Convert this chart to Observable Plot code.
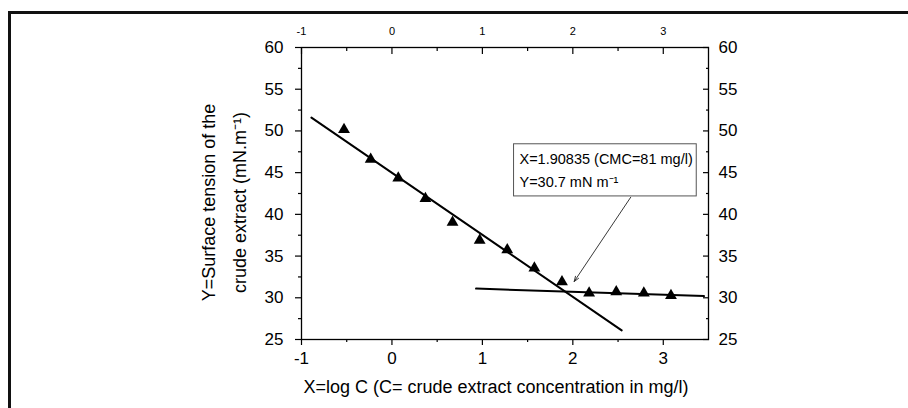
<!DOCTYPE html>
<html><head><meta charset="utf-8">
<script src="https://cdn.jsdelivr.net/npm/d3@7"></script>
<script src="https://cdn.jsdelivr.net/npm/@observablehq/plot@0.6"></script>
<style>
html,body{margin:0;padding:0;background:#fff;overflow:hidden;}
#wrap{position:relative;width:908px;height:408px;overflow:hidden;}
#border{position:absolute;left:8px;top:11px;width:1200px;height:1200px;border-left:3px solid #111;border-top:3px solid #111;}
#wrap svg{position:absolute;left:0;top:0;}
</style></head><body><div id="wrap"><div id="border"></div></div>
<script>
// Data
const logC    = [-0.53, -0.235, 0.07, 0.37, 0.67, 0.97, 1.275, 1.575, 1.88, 2.18, 2.48, 2.785, 3.085];
const tension = [50.15, 46.6, 44.35, 41.9, 39.05, 36.9, 35.75, 33.55, 31.9, 30.55, 30.7, 30.55, 30.25];
const fitSteep = {x: [-0.89, 2.54], y: [51.6, 26.1]};
const fitFlat  = {x: [0.93, 3.45], y: [31.1, 30.2]};
const xMajor = [-1, 0, 1, 2, 3];
const xMinor = [-0.5, 0.5, 1.5, 2.5];
const yMajor = [25, 30, 35, 40, 45, 50, 55, 60];
const yMinor = [27.5, 32.5, 37.5, 42.5, 47.5, 52.5, 57.5];
const xTitle = "X=log C (C= crude extract concentration in mg/l)";
const yTitle = "Y=Surface tension of the\ncrude extract (mN.m\u207B\u00B9)";
const noteLines = ["X=1.90835 (CMC=81 mg/l)", "Y=30.7 mN m\u207B\u00B9"];
const noteX = [1.41, 1.41];
const noteY = [46.55, 43.85];
const noteBox = {x1: 1.35, x2: 3.37, y1: 42.15, y2: 48.4};
const arrowSeg = {x1: 2.64, y1: 42.05, x2: 2.015, y2: 31.95};

const points = logC.map((x, i) => ({x, y: tension[i]}));
const toPts = f => f.x.map((x, i) => ({x, y: f.y[i]}));
const fmt = d => String(d);
const FONT = "'Liberation Sans', Arial, sans-serif";

const chart = Plot.plot({
  width: 908, height: 408,
  marginLeft: 301, marginRight: 200, marginTop: 47, marginBottom: 69,
  style: {fontFamily: FONT, color: "#000", background: "transparent", overflow: "visible"},
  x: {domain: [-1, 3.5]},
  y: {domain: [25, 60]},
  marks: [
    Plot.frame({stroke: "#000", strokeWidth: 1.3}),
    // bottom axis
    Plot.axisX({anchor: "bottom", ticks: xMajor, tickSize: 6, tickPadding: 6, fontSize: 17, tickFormat: fmt, label: null, strokeWidth: 1.2}),
    Plot.axisX({anchor: "bottom", ticks: xMinor, tickSize: 3, fill: "none", label: null, strokeWidth: 1.2}),
    // top axis (ticks inward)
    Plot.axisX({anchor: "top", ticks: xMajor, tickSize: -6, fill: "none", label: null, strokeWidth: 1.2}),
    Plot.axisX({anchor: "top", ticks: xMinor, tickSize: -3, fill: "none", label: null, strokeWidth: 1.2}),
    Plot.axisX({anchor: "top", ticks: xMajor, tickSize: 0, tickPadding: 13, fontSize: 11, tickFormat: fmt, label: null}),
    // left axis
    Plot.axisY({anchor: "left", ticks: yMajor, tickSize: 6, tickPadding: 12, fontSize: 17, tickFormat: fmt, label: null, strokeWidth: 1.2}),
    Plot.axisY({anchor: "left", ticks: yMinor, tickSize: 3, fill: "none", label: null, strokeWidth: 1.2}),
    // right axis (ticks inward)
    Plot.axisY({anchor: "right", ticks: yMajor, tickSize: -6, fill: "none", label: null, strokeWidth: 1.2}),
    Plot.axisY({anchor: "right", ticks: yMinor, tickSize: -3, fill: "none", label: null, strokeWidth: 1.2}),
    Plot.axisY({anchor: "right", ticks: yMajor, tickSize: 0, tickPadding: 10, fontSize: 17, tickFormat: fmt, label: null}),
    // titles
    Plot.text([xTitle], {frameAnchor: "bottom", textAnchor: "middle", dy: 53, dx: -9, fontSize: 18, fill: "#000"}),
    Plot.text([yTitle], {frameAnchor: "left", textAnchor: "middle", rotate: -90, dx: -81, dy: 9, fontSize: 18, lineHeight: 1.7, fill: "#000"}),
    // fit lines
    Plot.line(toPts(fitSteep), {x: "x", y: "y", stroke: "#000", strokeWidth: 2}),
    Plot.line(toPts(fitFlat), {x: "x", y: "y", stroke: "#000", strokeWidth: 2}),
    // data
    Plot.dot(points, {x: "x", y: "y", symbol: "triangle", r: 4.4, fill: "#000", stroke: "none"}),
    // annotation
    Plot.arrow([arrowSeg], {x1: "x1", y1: "y1", x2: "x2", y2: "y2", stroke: "#222", strokeWidth: 0.9, headLength: 9, headAngle: 40}),
    Plot.rect([noteBox], {x1: "x1", x2: "x2", y1: "y1", y2: "y2", fill: "#fff", stroke: "#555", strokeWidth: 1}),
    Plot.text(noteLines, {x: (d, i) => noteX[i], y: (d, i) => noteY[i], text: d => d, textAnchor: "start", fontSize: 14.5, fill: "#000"})
  ]
});
document.getElementById("wrap").appendChild(chart);
</script>
</body></html>
